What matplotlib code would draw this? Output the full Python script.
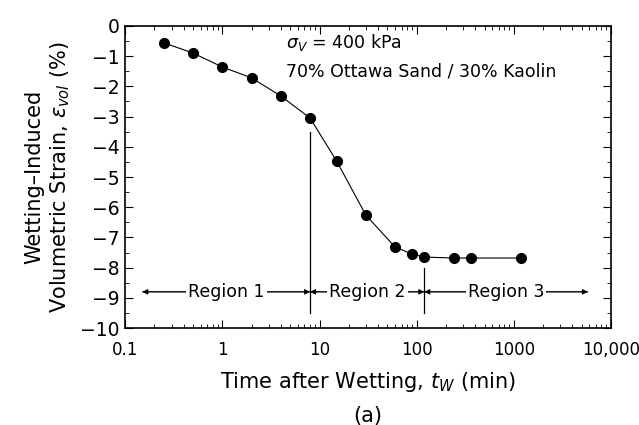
import matplotlib
matplotlib.use("Agg")
import matplotlib.pyplot as plt
from matplotlib.ticker import FixedLocator, FixedFormatter, LogLocator, MultipleLocator, NullFormatter

# data
time_min = [0.25, 0.5, 1, 2, 4, 8, 15, 30, 60, 90, 120, 240, 360, 1200]
strain_pct = [-0.56, -0.9, -1.36, -1.72, -2.32, -3.05, -4.47, -6.26,
              -7.32, -7.55, -7.65, -7.68, -7.68, -7.68]

x_ticks = [0.1, 1, 10, 100, 1000, 10000]
x_tick_labels = ["0.1", "1", "10", "100", "1000", "10,000"]
y_ticks = [0, -1, -2, -3, -4, -5, -6, -7, -8, -9, -10]

region_bounds = [0.15, 8, 120, 5800]
region_names = ["Region 1", "Region 2", "Region 3"]

plt.rcParams["font.family"] = "DejaVu Sans"

fig = plt.figure(figsize=(6.39, 4.25), dpi=100)
ax = fig.add_axes([0.196, 0.228, 0.76, 0.711])

ax.plot(time_min, strain_pct, color="black", lw=0.8, marker="o",
        markersize=7, markerfacecolor="black")

ax.set_xscale("log")
ax.set_xlim(0.1, 10000)
ax.set_ylim(-10, 0)

ax.xaxis.set_major_locator(FixedLocator(x_ticks))
ax.xaxis.set_major_formatter(FixedFormatter(x_tick_labels))
ax.xaxis.set_minor_locator(LogLocator(base=10, subs=range(2, 10)))
ax.xaxis.set_minor_formatter(NullFormatter())
ax.yaxis.set_major_locator(FixedLocator(y_ticks))
ax.yaxis.set_minor_locator(MultipleLocator(0.5))
ax.set_yticklabels(["0"] + ["\u2212%d" % abs(v) for v in y_ticks[1:]])

ax.tick_params(which="both", direction="in", top=True, right=True)
ax.tick_params(axis="y", labelsize=13.5, pad=4)
ax.tick_params(axis="x", labelsize=12, pad=9)
ax.tick_params(which="major", length=6)
ax.tick_params(which="minor", length=3)
for s in ax.spines.values():
    s.set_linewidth(1.2)

# region boundary lines
ax.plot([8, 8], [-3.5, -9.5], color="black", lw=0.9)
ax.plot([120, 120], [-8.0, -9.5], color="black", lw=0.9)

# region arrows and labels
y_reg = -8.8
for i, name in enumerate(region_names):
    x0, x1 = region_bounds[i], region_bounds[i + 1]
    ax.annotate("", xy=(x0, y_reg), xytext=(x1, y_reg),
                arrowprops=dict(arrowstyle="-|>", color="black", lw=0.7,
                                mutation_scale=8, shrinkA=0, shrinkB=0))
    ax.annotate("", xy=(x1, y_reg), xytext=(x0, y_reg),
                arrowprops=dict(arrowstyle="-|>", color="black", lw=0.7,
                                mutation_scale=8, shrinkA=0, shrinkB=0))
    xm = (x0 * x1) ** 0.5
    ax.text(xm, y_reg, name, ha="center", va="center", fontsize=12.5,
            bbox=dict(facecolor="white", edgecolor="none", pad=1.5))

ax.text(0.33, 0.945, r"$\sigma_V$ = 400 kPa", transform=ax.transAxes,
        fontsize=12.5, va="center")
ax.text(0.33, 0.85, "70% Ottawa Sand / 30% Kaolin", transform=ax.transAxes,
        fontsize=12.5, va="center")

ax.set_ylabel("Wetting\u2013Induced\nVolumetric Strain, $\\epsilon_{vol}$ (%)",
              fontsize=15, labelpad=6)
ax.set_xlabel("Time after Wetting, $t_W$ (min)\n(a)", fontsize=15,
              labelpad=8, linespacing=1.75)

fig.savefig("out.png", dpi=100)
